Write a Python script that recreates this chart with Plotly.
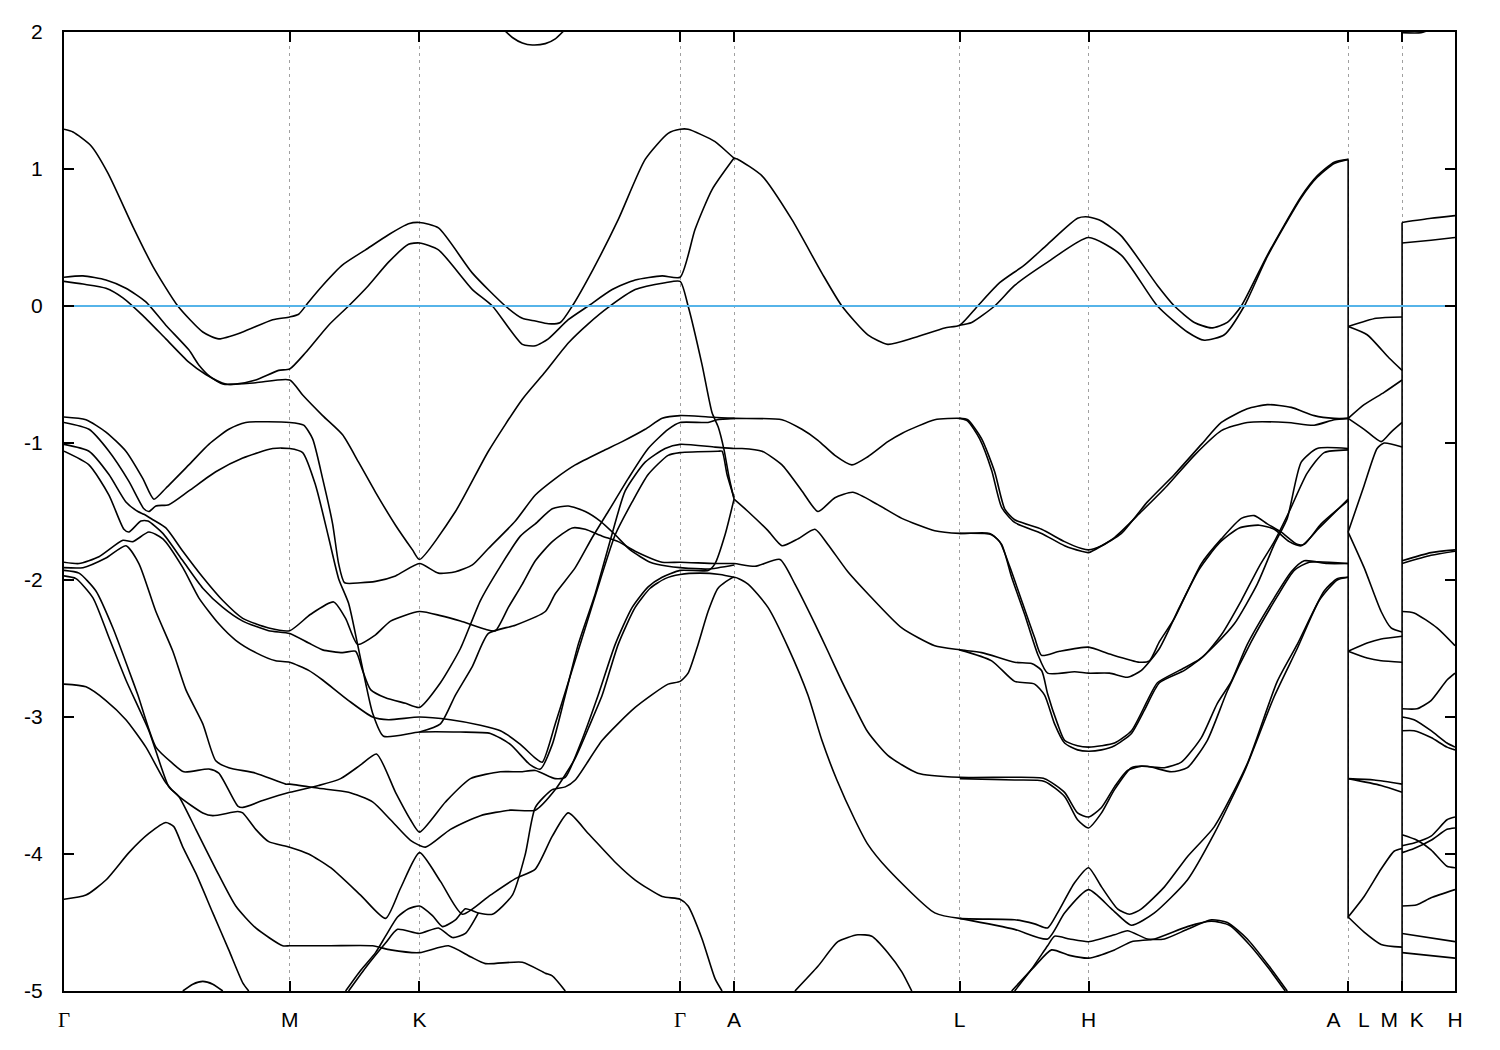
import plotly.graph_objects as go

# ---------------- axis data ----------------
kpt_pos = [63, 289, 419, 680, 734, 960, 1089, 1349, 1403, 1456]
GAM = '<span style="font-family:Liberation Serif, serif">Γ</span>'
kpt_lab = [GAM, "M", "K", GAM, "A", "L", "H", "A\u00a0\u00a0\u00a0L", "M\u00a0\u00a0K", "H"]
e_ticks = [-5, -4, -3, -2, -1, 0, 1, 2]
e_tick_text = ["-5", "-4", "-3", "-2", "-1", "0", "1", "2"]
e_fermi = 0.0
k_range = [63, 1456]
e_range = [-5, 2]

# ---------------- band data (path coordinate k, energy E in eV) ----------------
band_top1 = [(63,1.29),(72,1.27),(90,1.17),(107,0.97),(132,0.58),(152,0.29),(177,0.0),(202,-0.19),(218,-0.24),(242,-0.19),(272,-0.10),(289,-0.08),(298,-0.06),(308,0.03),(322,0.15),(342,0.30),(365,0.41),(388,0.52),(408,0.60),(419,0.61),(438,0.57),(472,0.24),(505,0.0),(522,-0.09),(535,-0.11),(548,-0.13),(560,-0.12),(572,0.0),(593,0.27),(618,0.63),(645,1.07),(668,1.26),(680,1.29),(688,1.29),(715,1.20),(734,1.08),(738,1.07),(762,0.95),(792,0.63),(822,0.24),(842,0.0),(868,-0.21),(888,-0.28),(915,-0.23),(945,-0.16),(960,-0.14),(978,0.0),(1000,0.17),(1025,0.30),(1048,0.45),(1078,0.64),(1089,0.65),(1102,0.62),(1122,0.51),(1158,0.15),(1175,0.0),(1195,-0.12),(1212,-0.16),(1228,-0.12),(1242,0.0),(1268,0.37),(1302,0.80),(1318,0.95),(1335,1.05),(1349,1.07)]
band_top2 = [(63,0.21),(82,0.22),(105,0.19),(125,0.13),(145,0.03),(165,-0.14),(188,-0.32),(198,-0.43),(210,-0.52),(222,-0.57),(235,-0.57),(255,-0.54),(278,-0.47),(289,-0.46),(305,-0.34),(328,-0.14),(348,0.0),(368,0.15),(388,0.32),(408,0.45),(419,0.46),(438,0.41),(472,0.12),(492,0.0),(522,-0.28),(535,-0.29),(548,-0.24),(568,-0.10),(588,0.0),(612,0.12),(635,0.19),(662,0.22),(680,0.21),(695,0.56),(712,0.85),(734,1.08)]
band_lh_top2 = [(960,-0.14),(972,-0.12),(995,0.0),(1015,0.15),(1048,0.32),(1089,0.50),(1122,0.37),(1158,0.0),(1188,-0.19),(1205,-0.25),(1225,-0.21),(1245,0.0),(1268,0.36),(1302,0.79),(1318,0.94),(1335,1.04),(1349,1.07)]
band_top3 = [(63,0.18),(82,0.16),(105,0.13),(122,0.06),(142,-0.07),(165,-0.24),(188,-0.41),(205,-0.50),(225,-0.57),(255,-0.56),(289,-0.54),(302,-0.65),(322,-0.80),(342,-0.94),(358,-1.14),(375,-1.36),(395,-1.60),(412,-1.78),(419,-1.85),(455,-1.50),(488,-1.06),(522,-0.68),(545,-0.48),(568,-0.27),(588,-0.13),(608,-0.01),(635,0.12),(665,0.17),(680,0.18),(688,0.0),(702,-0.43),(712,-0.78),(718,-0.88),(724,-1.05),(729,-1.25),(734,-1.41)]
band_al_141 = [(734,-1.41),(748,-1.50),(768,-1.64),(782,-1.75),(798,-1.70),(815,-1.63),(828,-1.74),(848,-1.94),(868,-2.10),(902,-2.35),(935,-2.48),(960,-2.51),(982,-2.53),(1015,-2.60),(1032,-2.61),(1042,-2.66),(1048,-2.83),(1058,-3.05),(1065,-3.17),(1078,-3.21),(1089,-3.22),(1102,-3.21),(1115,-3.19),(1132,-3.10),(1148,-2.88),(1158,-2.75),(1180,-2.66),(1200,-2.58),(1215,-2.48),(1235,-2.32),(1258,-2.03),(1275,-1.74),(1288,-1.55),(1302,-1.14),(1318,-1.04),(1349,-1.04)]
band_lh_251b = [(960,-2.51),(992,-2.59),(1015,-2.74),(1035,-2.76),(1045,-2.84),(1055,-3.05),(1065,-3.19),(1078,-3.24),(1089,-3.25),(1102,-3.24),(1115,-3.21),(1132,-3.12),(1145,-2.95),(1160,-2.75),(1185,-2.66),(1205,-2.55),(1222,-2.40),(1242,-2.15),(1260,-1.90),(1275,-1.72),(1290,-1.50),(1308,-1.22),(1325,-1.07),(1349,-1.05)]
band_081 = [(63,-0.81),(85,-0.83),(105,-0.92),(125,-1.06),(142,-1.26),(153,-1.41),(165,-1.33),(188,-1.16),(208,-1.01),(228,-0.90),(245,-0.85),(289,-0.85),(303,-0.87),(312,-0.97),(322,-1.26),(332,-1.59),(338,-1.88),(344,-2.02),(360,-2.02),(375,-2.01),(395,-1.97),(419,-1.88),(438,-1.95),(455,-1.94),(472,-1.89),(488,-1.77),(515,-1.57),(535,-1.38),(555,-1.26),(575,-1.16),(602,-1.06),(622,-0.99),(645,-0.90),(662,-0.82),(680,-0.80),(708,-0.81),(734,-0.82),(782,-0.83),(802,-0.90),(818,-0.98),(835,-1.09),(852,-1.16),(868,-1.10),(888,-0.99),(902,-0.93),(935,-0.83),(960,-0.82),(968,-0.83),(982,-0.97),(995,-1.21),(1005,-1.48),(1015,-1.56),(1042,-1.63),(1065,-1.72),(1082,-1.77),(1089,-1.78),(1102,-1.75),(1122,-1.66),(1148,-1.43),(1175,-1.23),(1202,-1.01),(1222,-0.85),(1248,-0.75),(1268,-0.72),(1292,-0.74),(1315,-0.80),(1335,-0.82),(1349,-0.82)]
band_lh_082b = [(960,-0.82),(968,-0.84),(980,-0.97),(992,-1.20),(1002,-1.47),(1015,-1.58),(1042,-1.66),(1065,-1.75),(1082,-1.79),(1089,-1.80),(1115,-1.69),(1142,-1.50),(1168,-1.31),(1195,-1.09),(1222,-0.91),(1248,-0.85),(1288,-0.85),(1315,-0.87),(1335,-0.83),(1349,-0.82)]
band_085 = [(63,-0.85),(88,-0.90),(108,-1.06),(128,-1.28),(143,-1.48),(148,-1.50),(155,-1.46),(168,-1.45),(188,-1.35),(215,-1.21),(242,-1.11),(272,-1.04),(289,-1.04),(302,-1.07),(315,-1.31),(328,-1.69),(338,-1.99),(348,-2.17),(357,-2.47),(365,-2.75),(372,-2.97),(383,-3.14),(419,-3.11),(460,-3.11),(490,-3.12),(510,-3.20),(530,-3.35),(540,-3.38),(552,-3.20),(565,-2.84),(578,-2.47),(595,-2.10),(612,-1.66),(625,-1.35),(645,-1.14),(665,-1.04),(680,-1.01),(715,-1.03),(734,-1.04),(742,-1.04),(762,-1.06),(782,-1.16),(802,-1.35),(818,-1.50),(835,-1.40),(853,-1.36),(878,-1.45),(902,-1.55),(935,-1.64),(960,-1.66),(990,-1.66),(1000,-1.72),(1010,-1.90),(1022,-2.15),(1035,-2.42),(1042,-2.55),(1060,-2.52),(1089,-2.49),(1110,-2.54),(1140,-2.60),(1150,-2.59),(1160,-2.45),(1175,-2.28),(1202,-1.88),(1222,-1.70),(1242,-1.55),(1255,-1.53),(1268,-1.59),(1282,-1.65),(1298,-1.74),(1305,-1.74),(1322,-1.59),(1349,-1.42)]
band_lh_166b = [(960,-1.66),(992,-1.67),(1002,-1.74),(1012,-1.98),(1025,-2.25),(1038,-2.54),(1048,-2.68),(1075,-2.67),(1089,-2.68),(1110,-2.68),(1128,-2.71),(1142,-2.66),(1160,-2.50),(1180,-2.20),(1200,-1.92),(1220,-1.73),(1240,-1.62),(1260,-1.60),(1275,-1.63),(1290,-1.72),(1302,-1.75),(1320,-1.62),(1349,-1.41)]
band_101 = [(63,-1.01),(88,-1.06),(108,-1.23),(125,-1.43),(137,-1.50),(143,-1.52),(152,-1.56),(165,-1.62),(182,-1.79),(202,-1.98),(222,-2.15),(242,-2.28),(268,-2.35),(289,-2.37),(310,-2.25),(333,-2.16),(345,-2.28),(357,-2.47),(375,-2.40),(390,-2.30),(419,-2.23),(440,-2.26),(460,-2.30),(485,-2.36),(495,-2.37),(508,-2.20),(522,-2.03),(535,-1.86),(552,-1.72),(572,-1.62),(585,-1.63),(602,-1.68),(618,-1.72),(635,-1.79),(662,-1.87),(680,-1.87),(715,-1.88),(734,-1.88),(755,-1.90),(780,-1.85),(795,-2.03),(815,-2.32),(828,-2.52),(842,-2.74),(855,-2.93),(868,-3.11),(888,-3.28),(918,-3.41),(960,-3.44),(1015,-3.44),(1045,-3.45),(1065,-3.55),(1078,-3.70),(1089,-3.73),(1102,-3.66),(1115,-3.51),(1128,-3.39),(1142,-3.36),(1165,-3.37),(1182,-3.33),(1202,-3.15),(1218,-2.90),(1232,-2.74),(1248,-2.47),(1275,-2.13),(1292,-1.94),(1305,-1.86),(1328,-1.88),(1349,-1.88)]
band_lh_345b = [(960,-3.45),(1015,-3.46),(1045,-3.47),(1065,-3.58),(1078,-3.75),(1089,-3.81),(1102,-3.70),(1115,-3.53),(1132,-3.37),(1148,-3.36),(1172,-3.40),(1188,-3.37),(1208,-3.17),(1228,-2.81),(1252,-2.45),(1278,-2.12),(1295,-1.93),(1310,-1.87),(1349,-1.88)]
band_106 = [(63,-1.06),(88,-1.16),(108,-1.38),(123,-1.63),(128,-1.65),(140,-1.57),(147,-1.57),(162,-1.66),(182,-1.86),(202,-2.06),(222,-2.20),(242,-2.30),(268,-2.37),(289,-2.39),(308,-2.46),(322,-2.51),(342,-2.53),(355,-2.52),(362,-2.66),(370,-2.80),(385,-2.86),(405,-2.90),(419,-2.93),(440,-2.75),(460,-2.50),(480,-2.15),(500,-1.90),(520,-1.68),(535,-1.59),(552,-1.48),(568,-1.46),(585,-1.50),(600,-1.57),(615,-1.67),(630,-1.78),(650,-1.87),(668,-1.90),(680,-1.91),(708,-1.92),(734,-1.89)]
band_187 = [(63,-1.87),(78,-1.88),(98,-1.83),(122,-1.71),(132,-1.72),(148,-1.65),(162,-1.70),(182,-1.91),(198,-2.13),(218,-2.32),(235,-2.44),(255,-2.53),(275,-2.59),(289,-2.60),(308,-2.66),(322,-2.73),(348,-2.88),(372,-3.0),(388,-3.02),(419,-3.0),(450,-3.02),(480,-3.06),(500,-3.10),(520,-3.20),(535,-3.30),(542,-3.33),(555,-3.05),(570,-2.70),(585,-2.35),(600,-2.00),(615,-1.67),(632,-1.43),(648,-1.23),(668,-1.09),(680,-1.07),(718,-1.06),(722,-1.06),(727,-1.23),(734,-1.40)]
band_kg_085 = [(419,-3.11),(440,-3.05),(455,-2.84),(472,-2.63),(488,-2.39),(515,-2.33),(545,-2.23),(555,-2.10),(575,-1.91),(592,-1.69),(608,-1.50),(628,-1.26),(648,-1.04),(668,-0.90),(680,-0.85),(708,-0.85),(717,-0.83),(734,-0.82)]
band_191 = [(63,-1.91),(82,-1.91),(105,-1.84),(125,-1.75),(138,-1.88),(155,-2.23),(172,-2.52),(185,-2.80),(202,-3.05),(215,-3.32),(228,-3.37),(255,-3.41),(285,-3.49),(289,-3.49),(318,-3.52),(348,-3.55),(372,-3.62),(390,-3.75),(410,-3.90),(425,-3.95),(450,-3.82),(480,-3.72),(510,-3.68),(535,-3.68),(555,-3.53),(575,-3.30),(590,-3.05),(602,-2.84),(618,-2.47),(635,-2.20),(650,-2.06),(665,-1.99),(680,-1.96),(700,-1.95),(720,-1.96),(734,-1.98)]
band_193 = [(63,-1.93),(78,-1.95),(95,-2.08),(112,-2.35),(128,-2.66),(137,-2.84),(155,-3.22),(172,-3.34),(183,-3.40),(208,-3.38),(218,-3.41),(237,-3.65),(242,-3.66),(262,-3.61),(289,-3.55),(318,-3.50),(340,-3.45),(360,-3.35),(376,-3.27),(395,-3.55),(410,-3.75),(419,-3.84),(445,-3.62),(470,-3.45),(500,-3.40),(520,-3.40),(535,-3.39),(555,-3.45),(565,-3.44),(580,-3.20),(598,-2.84),(615,-2.47),(632,-2.20),(648,-2.05),(662,-1.98),(680,-1.93),(708,-1.93),(715,-1.88),(725,-1.67),(734,-1.41)]
band_197 = [(63,-1.97),(75,-1.99),(92,-2.13),(108,-2.42),(125,-2.73),(148,-3.10),(168,-3.51),(178,-3.58),(195,-3.82),(215,-4.11),(235,-4.38),(255,-4.54),(282,-4.67),(289,-4.67),(330,-4.67),(372,-4.67),(390,-4.70),(419,-4.72),(448,-4.67),(470,-4.75),(485,-4.80),(522,-4.79),(545,-4.87),(552,-4.89),(565,-5.0)]
band_275 = [(63,-2.76),(85,-2.78),(105,-2.88),(125,-3.02),(145,-3.22),(165,-3.48),(178,-3.58),(202,-3.70),(212,-3.72),(237,-3.69),(242,-3.70),(255,-3.82),(268,-3.91),(289,-3.95),(308,-4.0),(330,-4.10),(360,-4.30),(385,-4.47),(400,-4.25),(419,-3.99),(440,-4.20),(462,-4.44),(490,-4.30),(515,-4.18),(535,-4.11),(552,-3.87),(568,-3.70),(588,-3.85),(615,-4.06),(635,-4.19),(662,-4.31),(680,-4.33),(688,-4.38),(702,-4.62),(715,-4.91),(722,-5.0)]
band_mk_bot = [(345,-5.0),(360,-4.85),(375,-4.72),(385,-4.60),(397,-4.46),(408,-4.40),(419,-4.38),(432,-4.45),(442,-4.53),(455,-4.48),(465,-4.40),(478,-4.43),(492,-4.44),(512,-4.30),(525,-4.00),(535,-3.66),(552,-3.53),(565,-3.51),(575,-3.46),(602,-3.17),(635,-2.93),(668,-2.76),(680,-2.74),(688,-2.68),(698,-2.47),(708,-2.23),(718,-2.06),(734,-1.98),(748,-2.03),(768,-2.20),(788,-2.49),(808,-2.84),(822,-3.17),(837,-3.46),(855,-3.75),(868,-3.93),(888,-4.11),(935,-4.43),(960,-4.47),(1015,-4.48),(1035,-4.51),(1048,-4.54),(1058,-4.43),(1075,-4.21),(1089,-4.10),(1102,-4.24),(1118,-4.40),(1130,-4.44),(1142,-4.40),(1165,-4.24),(1188,-4.02),(1215,-3.80),(1248,-3.34),(1278,-2.74),(1298,-2.47),(1325,-2.08),(1338,-1.99),(1349,-1.98)]
band_mk_bot2 = [(348,-5.0),(365,-4.83),(385,-4.65),(397,-4.55),(419,-4.58),(438,-4.54),(452,-4.61),(465,-4.58),(478,-4.43)]
band_lh_447b = [(960,-4.47),(1015,-4.55),(1048,-4.62),(1065,-4.43),(1089,-4.26),(1112,-4.40),(1132,-4.52),(1155,-4.43),(1188,-4.19),(1215,-3.85),(1245,-3.40),(1275,-2.85),(1298,-2.50),(1320,-2.15),(1338,-2.0),(1349,-1.98)]
band_433 = [(63,-4.33),(85,-4.30),(105,-4.19),(128,-3.99),(148,-3.85),(165,-3.77),(173,-3.80),(182,-3.95),(195,-4.14),(212,-4.43),(228,-4.70),(242,-4.94),(248,-5.0)]
band_gm_low = [(182,-5.0),(192,-4.95),(202,-4.93),(212,-4.95),(222,-5.0)]
band_al_low = [(795,-5.0),(818,-4.82),(838,-4.64),(858,-4.59),(872,-4.60),(888,-4.72),(902,-4.86),(912,-5.0)]
band_ha_low1 = [(1015,-5.0),(1032,-4.84),(1048,-4.67),(1055,-4.60),(1070,-4.62),(1089,-4.64),(1115,-4.59),(1128,-4.56),(1148,-4.62),(1165,-4.62),(1188,-4.55),(1212,-4.48),(1228,-4.50),(1248,-4.62),(1270,-4.82),(1288,-5.0)]
band_ha_low2 = [(1012,-5.0),(1035,-4.82),(1052,-4.70),(1070,-4.74),(1089,-4.76),(1115,-4.70),(1132,-4.64),(1155,-4.62),(1188,-4.53),(1212,-4.49),(1230,-4.52),(1250,-4.66),(1270,-4.84),(1286,-5.0)]
band_kg_high = [(503,2.02),(512,1.96),(522,1.92),(532,1.905),(545,1.915),(555,1.95),(565,2.02)]
# L-M segment
band_lm = [
    [(1349,-0.15),(1377,-0.09),(1403,-0.08)],
    [(1349,-0.15),(1368,-0.21),(1390,-0.38),(1403,-0.47)],
    [(1349,-0.82),(1365,-0.72),(1385,-0.63),(1403,-0.54)],
    [(1349,-0.82),(1365,-0.90),(1382,-0.99),(1392,-0.92),(1403,-0.85)],
    [(1349,-1.65),(1365,-1.31),(1378,-1.04),(1385,-1.00),(1403,-1.03)],
    [(1349,-1.65),(1365,-1.91),(1382,-2.23),(1392,-2.35),(1403,-2.38)],
    [(1349,-2.52),(1368,-2.46),(1382,-2.43),(1403,-2.41)],
    [(1349,-2.52),(1368,-2.57),(1382,-2.59),(1403,-2.60)],
    [(1349,-3.45),(1375,-3.46),(1403,-3.49)],
    [(1349,-3.45),(1382,-3.50),(1403,-3.55)],
    [(1349,-4.46),(1365,-4.31),(1382,-4.11),(1395,-3.98),(1403,-3.96)],
    [(1349,-4.46),(1365,-4.57),(1382,-4.66),(1403,-4.68)],
]
# K-H segment
band_kh = [
    [(1403,0.61),(1432,0.64),(1456,0.66)],
    [(1403,0.46),(1432,0.48),(1456,0.50)],
    [(1403,-1.86),(1432,-1.80),(1456,-1.78)],
    [(1403,-1.88),(1432,-1.82),(1456,-1.79)],
    [(1403,-2.23),(1415,-2.24),(1438,-2.35),(1456,-2.48)],
    [(1403,-2.94),(1418,-2.94),(1432,-2.88),(1448,-2.73),(1456,-2.68)],
    [(1403,-3.0),(1415,-3.02),(1432,-3.10),(1448,-3.19),(1456,-3.22)],
    [(1403,-3.10),(1415,-3.10),(1432,-3.15),(1448,-3.22),(1456,-3.24)],
    [(1403,-3.86),(1418,-3.90),(1432,-3.97),(1448,-4.09),(1456,-4.10)],
    [(1403,-3.94),(1415,-3.92),(1432,-3.87),(1448,-3.75),(1456,-3.73)],
    [(1403,-3.99),(1415,-3.96),(1432,-3.90),(1448,-3.82),(1456,-3.81)],
    [(1403,-4.38),(1418,-4.37),(1432,-4.32),(1456,-4.26)],
    [(1403,-4.58),(1456,-4.64)],
    [(1403,-4.72),(1456,-4.76)],
    [(1403,1.995),(1422,1.995),(1432,2.02)],
]
# discontinuities drawn by the band joins at A|L and M|K
jump_AL = [(1349,1.07),(1349,-4.47)]
jump_MK = [(1403,0.61),(1403,-5.0)]

bands = [band_top1, band_top2, band_lh_top2, band_top3, band_al_141, band_lh_251b,
         band_081, band_lh_082b, band_085, band_lh_166b, band_101, band_lh_345b,
         band_106, band_187, band_kg_085, band_191, band_193, band_197, band_275,
         band_mk_bot, band_mk_bot2, band_lh_447b, band_433, band_gm_low, band_al_low,
         band_ha_low1, band_ha_low2, band_kg_high] + band_lm + band_kh
jumps = [jump_AL, jump_MK]

fig = go.Figure()
for b in bands:
    fig.add_trace(go.Scatter(x=[p[0] for p in b], y=[p[1] for p in b], mode="lines",
                             line=dict(color="black", width=1.6, shape="spline", smoothing=0.6),
                             hoverinfo="skip", showlegend=False))
for b in jumps:
    fig.add_trace(go.Scatter(x=[p[0] for p in b], y=[p[1] for p in b], mode="lines",
                             line=dict(color="black", width=1.6), hoverinfo="skip",
                             showlegend=False))
fig.add_trace(go.Scatter(x=k_range, y=[e_fermi, e_fermi], mode="lines",
                         line=dict(color="#56b4e9", width=1.8), hoverinfo="skip",
                         showlegend=False))

axis_font = dict(family="Liberation Sans, Arial, sans-serif", size=21, color="black")
fig.update_layout(
    width=1500, height=1050,
    margin=dict(l=56, r=53, t=19, b=67),
    paper_bgcolor="white", plot_bgcolor="white",
    showlegend=False,
    xaxis=dict(range=k_range, tickvals=kpt_pos, ticktext=kpt_lab, ticks="inside",
               ticklen=10, tickwidth=2, tickcolor="black", showline=True, linecolor="black",
               linewidth=2, mirror="ticks", showgrid=True, gridcolor="#a0a0a0",
               gridwidth=1, griddash="3px,4px", zeroline=False, tickfont=axis_font,
               ticklabelstandoff=9),
    yaxis=dict(range=e_range, tickvals=e_ticks, ticktext=e_tick_text, ticks="inside",
               ticklen=10, tickwidth=2, tickcolor="black", showline=True, linecolor="black",
               linewidth=2, mirror="ticks", showgrid=False, zeroline=False, tickfont=axis_font,
               ticklabelstandoff=15),
)
fig.write_html("out.html")
